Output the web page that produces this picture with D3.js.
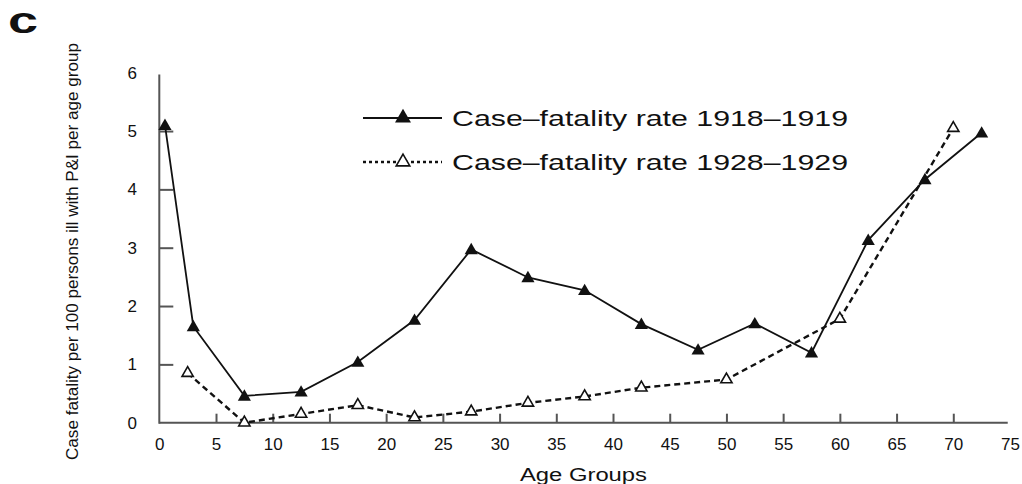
<!DOCTYPE html>
<html><head><meta charset="utf-8">
<script src="https://cdn.jsdelivr.net/npm/d3@7"></script>
<style>body{margin:0;background:#fff}svg{display:block}text{font-family:"Liberation Sans",Arial,sans-serif;fill:#111}</style>
</head><body>
<svg id="c" width="1022" height="484"></svg>
<script>
const ages1918 = [0.5,3,7.5,12.5,17.5,22.5,27.5,32.5,37.5,42.5,47.5,52.5,57.5,62.5,67.5,72.5];
const rate1918 = [5.1,1.65,0.46,0.53,1.04,1.76,2.97,2.49,2.27,1.69,1.25,1.70,1.20,3.13,4.17,4.97];
const ages1928 = [2.5,7.5,12.5,17.5,22.5,27.5,32.5,37.5,42.5,50,60,70];
const rate1928 = [0.85,0.0,0.15,0.30,0.09,0.19,0.34,0.45,0.60,0.74,1.78,5.05];
const xTicks = [0,5,10,15,20,25,30,35,40,45,50,55,60,65,70,75];
const yTicks = [0,1,2,3,4,5,6];
const legendLabels = ["Case\u2013fatality rate 1918\u20131919","Case\u2013fatality rate 1928\u20131929"];
const xTitle = "Age Groups";
const yTitle = "Case fatality per 100 persons ill with P&I per age group";

const svg = d3.select("#c");
const x = d3.scaleLinear().domain([0,75]).range([159.3,1010]);
const y = d3.scaleLinear().domain([0,6]).range([422.7,72.7]);
const axisColor = "#555";

// panel letter
svg.append("text").attr("x",8).attr("y",33).attr("font-size",36).attr("font-weight",900)
  .attr("textLength",30).attr("lengthAdjust","spacingAndGlyphs").text("c");

// x axis
const gx = svg.append("g").attr("transform",`translate(0,${y(0)})`)
  .call(d3.axisBottom(x).tickValues(xTicks).tickFormat(d3.format("d")).tickSizeInner(-9).tickSizeOuter(0).tickPadding(15));
gx.select(".domain").attr("stroke",axisColor).attr("stroke-width",2).attr("d",`M${x(0)},0H${x(74.8)}`);
gx.selectAll(".tick line").attr("stroke",axisColor).attr("stroke-width",2)
  .filter(d=>d===0||d===75).remove();
gx.selectAll(".tick text").attr("font-size",17).attr("fill","#111").attr("dy","0.75em")
  .attr("font-family","Liberation Sans, Arial, sans-serif");

// y axis
const gy = svg.append("g").attr("transform",`translate(${x(0)},0)`)
  .call(d3.axisLeft(y).tickValues(yTicks).tickFormat(d3.format("d")).tickSizeInner(-14).tickSizeOuter(0).tickPadding(28));
gy.select(".domain").attr("stroke",axisColor).attr("stroke-width",2).attr("d",`M0,${y(5.97)}V${y(0)+1}`);
gy.selectAll(".tick line").attr("stroke",axisColor).attr("stroke-width",2)
  .filter(d=>d===0||d===6).remove();
gy.selectAll(".tick text").attr("font-size",17).attr("fill","#111")
  .attr("font-family","Liberation Sans, Arial, sans-serif").attr("text-anchor","middle").attr("x",-27);

// titles
svg.append("text").attr("x",520).attr("y",481).attr("font-size",18)
  .attr("textLength",127).attr("lengthAdjust","spacingAndGlyphs").text(xTitle);
svg.append("text").attr("transform","translate(78,460) rotate(-90)").attr("font-size",16)
  .attr("textLength",417).attr("lengthAdjust","spacingAndGlyphs").text(yTitle);

// lines
const d1918 = ages1918.map((a,i)=>[a,rate1918[i]]);
const d1928 = ages1928.map((a,i)=>[a,rate1928[i]]);
const line = d3.line().x(d=>x(d[0])).y(d=>y(d[1]));
svg.append("path").datum(d1928).attr("d",line).attr("fill","none").attr("stroke","#111")
  .attr("stroke-width",2.4).attr("stroke-dasharray","6,4");
svg.append("path").datum(d1918).attr("d",line).attr("fill","none").attr("stroke","#111")
  .attr("stroke-width",1.8);

const tri = d3.symbol().type(d3.symbolTriangle).size(75);
const triOpen = d3.symbol().type(d3.symbolTriangle).size(55);
svg.append("g").selectAll("path").data(d1928).join("path")
  .attr("transform",d=>`translate(${x(d[0])},${y(d[1])})`).attr("d",triOpen)
  .attr("fill","#fff").attr("stroke","#111").attr("stroke-width",1.6);
svg.append("g").selectAll("path").data(d1918).join("path")
  .attr("transform",d=>`translate(${x(d[0])},${y(d[1])+1})`).attr("d",tri).attr("fill","#111");

// legend
const lg = svg.append("g");
const ly = [118,162];
const triL = d3.symbol().type(d3.symbolTriangle).size(110);
const triLOpen = d3.symbol().type(d3.symbolTriangle).size(80);
lg.append("line").attr("x1",363).attr("x2",442).attr("y1",ly[0]).attr("y2",ly[0]).attr("stroke","#111").attr("stroke-width",1.8);
lg.append("path").attr("transform",`translate(403,${ly[0]})`).attr("d",triL).attr("fill","#111");
lg.append("line").attr("x1",363).attr("x2",442).attr("y1",ly[1]).attr("y2",ly[1]).attr("stroke","#111").attr("stroke-width",2.6).attr("stroke-dasharray","3,3");
lg.append("path").attr("transform",`translate(403,${ly[1]})`).attr("d",triLOpen).attr("fill","#fff").attr("stroke","#111").attr("stroke-width",1.6);
legendLabels.forEach((t,i)=>{
  lg.append("text").attr("x",452).attr("y",ly[i]+8).attr("font-size",22)
    .attr("textLength",396).attr("lengthAdjust","spacingAndGlyphs").text(t);
});
</script>
</body></html>
